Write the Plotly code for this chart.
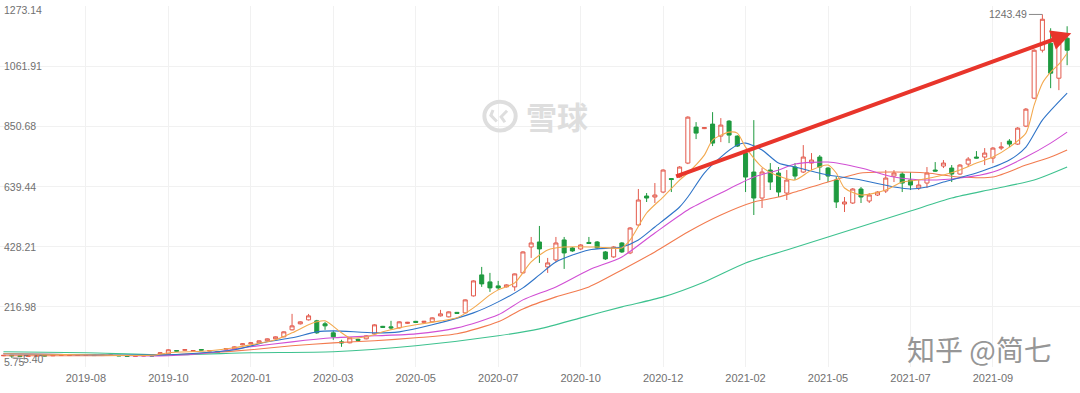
import plotly.graph_objects as go

# ---------------- data (weekly candles) ----------------
weeks = list(range(130))

opens = [45.1, 47, 45, 43, 44, 46, 45, 46, 46, 46.5,
         46.5, 47.5, 46, 46.5, 46.5, 45, 43.5, 44.5, 45.5, 52,
         52.1, 63.5, 64.5, 61.5, 67, 61.5, 60.5, 68, 69.6, 83.6,
         87.1, 90.6, 97.7, 104.7, 111.7, 136.2, 157.3, 171.3, 167.8, 157.3,
         125.7, 94.1, 90.6, 103, 104.7, 122.2, 148.5, 146.7, 143.2, 159,
         166, 162.5, 164.3, 185.3, 181.8, 197.5, 195.8, 255.4, 329.1, 304.5,
         290.5, 287.0, 287.0, 336.1, 427.2, 444.7, 357.1, 381.6, 451.8, 423.7,
         420.2, 443, 444.7, 409.7, 392.2, 441.2, 406.2, 504.4, 606.0, 602.5,
         620.0, 667.4, 672.6, 721.7, 847.9, 842.7, 858.5, 816.4, 869.0, 816.4,
         756.8, 690.2, 599.0, 697.2, 686.7, 616.5, 707.7, 690.2, 721.7, 742.8,
         704.2, 662.1, 578.0, 581.5, 630.6, 588.5, 609.5, 623.6, 676.1, 683.2,
         662.1, 634.1, 651.6, 697.2, 711.2, 704.2, 683.2, 718.2, 742.8, 742.8,
         739.3, 774.3, 798.9, 788.3, 851.4, 949.6, 1117.9, 1142.4, 1019.7, 1160.0]

highs = [48, 48, 46, 46, 47, 47, 49, 48, 48.5, 49,
         49, 48.5, 48.5, 49, 47.5, 46, 45.5, 46.5, 46.5, 57,
         68, 65, 68, 65, 68.5, 65, 62, 72, 78, 89,
         92, 99, 106, 113, 131, 192.3, 166, 192, 171.3, 164.3,
         132.7, 101.2, 110, 105, 117, 156, 150, 167.8, 166, 164,
         167.5, 167.5, 180, 206.3, 201, 199, 243, 310, 357.1, 336.1,
         308.0, 296, 334, 412, 462.3, 500.9, 388.7, 462.3, 462.3, 427,
         437, 462.3, 448, 413, 430, 444, 497, 630.6, 616.5, 651.6,
         700, 669.1, 711, 886, 865.5, 848, 900.5, 879.5, 872.5, 819,
         767.3, 872.5, 704.2, 721.7, 707.7, 697.2, 721.7, 784.8, 756.8, 749.8,
         707.7, 672.6, 602.5, 634, 637.6, 616.5, 623, 697.2, 697.2, 690.2,
         690.2, 662.1, 707.7, 725.2, 732.2, 714.7, 718, 742.8, 763.8, 774.3,
         777.8, 795.3, 805.9, 848, 915, 1121, 1243.49, 1195.0, 1145, 1202.0]

lows = [44, 38.1, 42, 42, 43, 43, 44, 45, 45, 45.5,
        45.5, 45, 45, 45.5, 44, 42.5, 42.5, 43.5, 43.5, 51,
        51, 60, 63, 60, 64, 60.5, 57.5, 67, 68, 82,
        85.5, 89, 96, 103, 110, 134, 155, 169, 122.2, 136.2,
        101.2, 76.6, 89, 97, 103, 120, 143, 136.2, 141, 157,
        161, 161, 162.5, 183, 180, 192, 194, 253, 287.0, 269.4,
        276.5, 285, 273.0, 334, 388.7, 371.1, 336.1, 374.6, 350.1, 410,
        417, 437.7, 420, 381.6, 389, 406, 402, 500, 585.0, 581.5,
        616, 620.0, 669, 718, 805.9, 841, 781.3, 795.3, 791.8, 778,
        620.0, 539.4, 564.0, 627.1, 602.5, 592.0, 662.1, 686.7, 697.2, 662.1,
        655.1, 564.0, 549.9, 578, 581.5, 581.5, 606, 616.5, 655.1, 620.0,
        627.1, 627.1, 634.1, 692, 704.2, 655.1, 680, 707.7, 738, 714.7,
        721.7, 767.3, 777.8, 785, 848, 946, 1110, 984.7, 977.7, 1065.3]

closes = [46.5, 45, 43, 45, 45.5, 44.5, 47.5, 47, 47.5, 47.5,
          47.5, 46, 47.5, 47.5, 45, 43.5, 44.5, 45.5, 44.5, 55.6,
          66.1, 61.5, 66.5, 63.5, 65, 63.5, 58.5, 70.5, 76.6, 87.1,
          90.6, 97.7, 104.7, 111.7, 129.2, 150.2, 164.3, 185.3, 125.7, 150.2,
          111.7, 90.6, 108.2, 99.5, 115.2, 153.8, 145, 143.2, 164.3, 162.5,
          162.5, 166, 178.3, 192.3, 199.3, 194, 241.4, 308.0, 297.5, 283.5,
          283.5, 294.0, 332.6, 409.7, 441.2, 420.2, 371.1, 441.2, 406.2, 413.2,
          434.2, 439.5, 423.7, 385.2, 427.2, 409.7, 493.8, 592.0, 599.0, 609.5,
          697.2, 663.9, 707.7, 883.0, 826.9, 846.2, 791.8, 855.0, 819.9, 781.3,
          672.6, 599.0, 690.2, 655.1, 620.0, 662.1, 676.1, 742.8, 732.2, 707.7,
          676.1, 585.0, 585.0, 630.6, 602.5, 609.5, 620.0, 669.1, 686.7, 651.6,
          644.6, 644.6, 686.7, 693.7, 721.7, 683.2, 714.7, 735.7, 739.3, 756.8,
          774.3, 777.8, 788.3, 844.4, 911.0, 1117.9, 1226.6, 1037.3, 1142.4, 1117.9]

# moving-average lines, read at sampled weeks
ma5_x = [0, 10, 18, 20, 25, 28, 30, 33, 35, 37, 38, 39, 41, 42, 44, 46, 48, 50, 53, 55,
         57, 59, 60, 62, 64, 66, 68, 72, 75, 76, 78, 80, 82, 83, 85, 86, 88, 89, 90, 92,
         94, 96, 98, 100, 101, 102, 104, 107, 109, 111, 114, 116, 118, 120, 122, 124,
         125, 126, 127, 128, 129]
ma5_y = [52.1, 48.6, 46.8, 55.6, 62.6, 73.1, 83.6, 101.2, 125.7, 153.8, 164.3, 167.8,
         125.7, 108.2, 111.7, 129.2, 143.2, 153.8, 167.8, 178.3,
         213.4, 258.9, 276.5, 301.0, 374.6, 416.7, 427.2, 427.2, 423.7, 451.8,
         546.4, 602.5, 662.1, 686.7, 749.8, 802.4, 830.4, 826.9, 777.8, 707.7,
         676.1, 662.1, 697.2, 714.7, 686.7, 634.1, 609.5, 627.1, 655.1, 662.1,
         679.6, 697.2, 721.7, 742.8, 777.8, 826.9, 925.1, 1002.2, 1040.8, 1068.8, 1107.4]

ma10_x = [0, 10, 20, 28, 32, 35, 38, 40, 45, 48, 52, 57, 60, 63, 65, 67, 71, 75, 77, 79,
          82, 83, 85, 87, 89, 90, 92, 94, 96, 100, 104, 108, 110, 112, 114, 118, 122,
          124, 126, 129]
ma10_y = [52.1, 48.6, 48.6, 66.1, 94.1, 108.2, 129.2, 132.7, 125.7, 129.2, 153.8, 195.8,
          234.4, 283.5, 329.1, 374.6, 416.7, 427.2, 451.8, 497.3,
          567.5, 602.5, 686.7, 742.8, 784.8, 791.8, 767.3, 721.7, 707.7, 679.6,
          662.1, 637.6, 630.6, 637.6, 655.1, 686.7, 732.2, 777.8, 872.5, 967.1]

ma20_x = [0, 10, 20, 25, 30, 35, 40, 45, 50, 55, 60, 63, 67, 71, 75, 79, 83, 87, 91, 94,
          96, 100, 104, 108, 112, 116, 120, 124, 127, 129]
ma20_y = [52.1, 48.6, 45.1, 55.6, 76.6, 94.1, 108.2, 115.2, 122.2, 143.2, 188.8, 241.4,
          287.0, 346.6, 392.2, 476.3, 557.0, 616.5, 672.6, 697.2,
          718.2, 725.2, 704.2, 672.6, 662.1, 669.1, 690.2, 742.8, 791.8, 830.4]

ma30_x = [0, 10, 20, 25, 30, 35, 40, 45, 50, 55, 60, 63, 67, 71, 75, 79, 83, 87, 91, 94,
          96, 100, 104, 108, 112, 116, 120, 124, 127, 129]
ma30_y = [45.1, 45.1, 48.6, 55.6, 66.1, 80.1, 90.6, 97.7, 108.2, 122.2, 164.3, 209.8,
          251.9, 287.0, 346.6, 409.7, 479.8, 539.4, 585.0, 602.5,
          620.0, 655.1, 686.7, 690.2, 686.7, 672.6, 672.6, 714.7, 742.8, 767.3]

ma60_x = [0, 10, 20, 30, 40, 50, 60, 65, 70, 75, 80, 85, 90, 95, 100, 105, 110, 115,
          120, 125, 129]
ma60_y = [59.1, 55.6, 48.6, 55.6, 59.1, 80.1, 115.2, 139.7, 178.3, 216.9, 251.9, 304.5,
          371.1, 416.7, 462.3, 507.9, 553.4, 599.0, 630.6, 662.1, 707.7]

tick_weeks = [10, 20, 30, 40, 50, 60, 70, 80, 90, 100, 110, 120]
tick_labels = ["2019-08", "2019-10", "2020-01", "2020-03", "2020-05", "2020-07",
               "2020-10", "2020-12", "2021-02", "2021-05", "2021-07", "2021-09"]

y_ticks = [1273.14, 1061.91, 850.68, 639.44, 428.21, 216.98, 5.75]
y_labels = ["1273.14", "1061.91", "850.68", "639.44", "428.21", "216.98", "5.75"]

max_week, max_price, max_label = 126, 1243.49, "1243.49"
min_week, min_price, min_label = 1, 38.1, "5.40"

trend_start = (81.4, 672.8)
trend_end = (129.5, 1177.7)

# ---------------- styles ----------------
RED = "#e35a4c"
GREEN = "#1e9a3f"
LABEL = "#707070"
GRID = "#f1f1f1"
WM = "#dedede"

fig = go.Figure()

fig.add_trace(go.Candlestick(
    x=weeks, open=opens, high=highs, low=lows, close=closes,
    increasing=dict(line=dict(color=RED, width=1), fillcolor="white"),
    decreasing=dict(line=dict(color=GREEN, width=1), fillcolor=GREEN),
    whiskerwidth=0, hoverinfo="skip", showlegend=False))

for xs, ys, col in [(ma60_x, ma60_y, "#3ec28f"),
                    (ma30_x, ma30_y, "#f27b4f"),
                    (ma20_x, ma20_y, "#d14fd4"),
                    (ma10_x, ma10_y, "#2f74c8"),
                    (ma5_x, ma5_y, "#f3a94e")]:
    fig.add_trace(go.Scatter(x=xs, y=ys, mode="lines", hoverinfo="skip",
                             line=dict(color=col, width=1.1, shape="spline", smoothing=0.7),
                             showlegend=False))

annotations = []
for i, (v, t) in enumerate(zip(y_ticks, y_labels)):
    shift = -4 if i == 0 else (5 if i == len(y_ticks) - 1 else 0)
    annotations.append(dict(x=0, xref="paper", xanchor="left", xshift=2,
                            y=v, yref="y", yanchor="middle", yshift=shift,
                            text=t, showarrow=False,
                            font=dict(family="Liberation Sans, Arial", size=10.5, color=LABEL)))

annotations.append(dict(x=max_week, y=max_price, xref="x", yref="y", text=max_label,
                        showarrow=True, arrowhead=0, arrowwidth=1, arrowcolor="#888",
                        ax=-34, ay=0, standoff=0,
                        font=dict(family="Liberation Sans, Arial", size=10.5, color=LABEL)))
annotations.append(dict(x=min_week, y=min_price, xref="x", yref="y", text=min_label,
                        showarrow=True, arrowhead=0, arrowwidth=1, arrowcolor="#999",
                        ax=22, ay=1, standoff=0,
                        font=dict(family="Liberation Sans, Arial", size=10.5, color=LABEL)))

# trend arrow
annotations.append(dict(x=trend_end[0], y=trend_end[1], xref="x", yref="y",
                        ax=trend_start[0], ay=trend_start[1], axref="x", ayref="y",
                        showarrow=True, arrowhead=2, arrowsize=1, arrowwidth=4,
                        arrowcolor="#e8352b", text=""))

# watermarks
annotations.append(dict(x=0.5157, y=0.698, xref="paper", yref="paper", text="<b>雪球</b>",
                        xanchor="center", yanchor="middle", showarrow=False,
                        font=dict(family="Noto Sans CJK SC", size=31, color=WM)))
annotations.append(dict(x=0.9074, y=0.05, xref="paper", yref="paper", text="知乎 @简七",
                        xanchor="center", yanchor="middle", showarrow=False,
                        font=dict(family="Noto Sans CJK SC", size=28, color="#969696")))

shapes = [dict(type="circle", xref="paper", yref="paper",
               x0=0.4485, x1=0.4775, y0=0.655, y1=0.735,
               line=dict(color=WM, width=4)),
          dict(type="path", xref="paper", yref="paper",
               path="M 0.4565 0.712 L 0.4545 0.697 L 0.4600 0.680",
               line=dict(color=WM, width=3)),
          dict(type="path", xref="paper", yref="paper",
               path="M 0.4695 0.710 L 0.4640 0.693 L 0.4675 0.678",
               line=dict(color=WM, width=3))]

fig.update_layout(
    width=1080, height=393,
    margin=dict(l=0, r=0, t=6, b=26),
    paper_bgcolor="white", plot_bgcolor="white",
    showlegend=False,
    annotations=annotations, shapes=shapes,
    xaxis=dict(range=[-0.42, 130.56], rangeslider=dict(visible=False),
               tickmode="array", tickvals=tick_weeks, ticktext=tick_labels,
               showgrid=True, gridcolor=GRID, gridwidth=1, zeroline=False,
               showline=False, ticks="", ticklabelstandoff=3,
               tickfont=dict(family="Liberation Sans, Arial", size=11, color=LABEL)),
    yaxis=dict(range=[5.75, 1273.14], tickmode="array", tickvals=y_ticks,
               showticklabels=False, showgrid=True, gridcolor=GRID, gridwidth=1,
               zeroline=False, showline=False, ticks=""),
)

fig.write_html("out.html", config={"displayModeBar": False},
               post_script="document.body.style.margin='0px';")
